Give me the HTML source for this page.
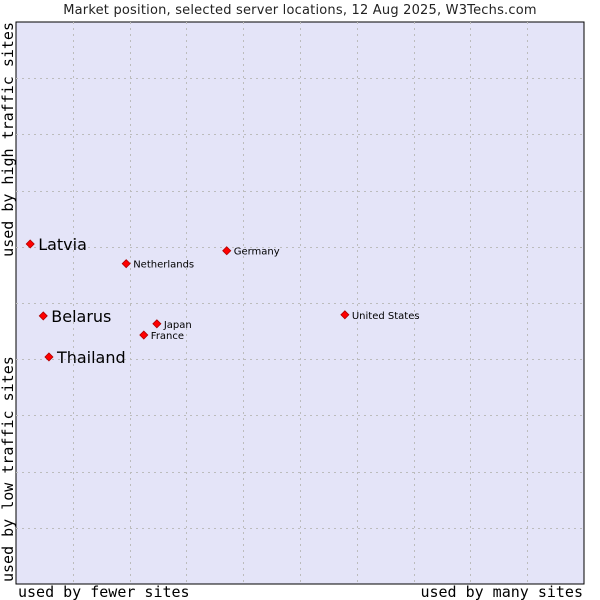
<!DOCTYPE html>
<html><head><meta charset="utf-8"><style>
html,body{margin:0;padding:0;background:#fff;width:600px;height:600px;overflow:hidden}
svg{display:block}
</style></head><body>
<svg id="chart" width="600" height="600">
<text x="300" y="14" text-anchor="middle" font-family="DejaVu Sans, sans-serif" font-size="13" letter-spacing="0.2" fill="#222">Market position, selected server locations, 12 Aug 2025, W3Techs.com</text>
<rect x="16" y="22" width="568" height="562" fill="#e4e4f8" stroke="#000" stroke-width="1"/>
<g id="grid"></g>
<g id="points"></g>
<text x="18" y="597" text-anchor="start" font-family="DejaVu Sans Mono, monospace" font-size="15" fill="#000">used by fewer sites</text>
<text x="583" y="597" text-anchor="end" font-family="DejaVu Sans Mono, monospace" font-size="15" fill="#000">used by many sites</text>
<text transform="translate(13,22) rotate(-90)" text-anchor="end" font-family="DejaVu Sans Mono, monospace" font-size="15" fill="#000">used by high traffic sites</text>
<text transform="translate(13,582) rotate(-90)" text-anchor="start" font-family="DejaVu Sans Mono, monospace" font-size="15" fill="#000">used by low traffic sites</text>
</svg>
<script>
const names = ["Latvia","Belarus","Thailand","Netherlands","Germany","Japan","France","United States"];
const xValues = [2.5,4.8,5.8,19.4,37.1,24.8,22.5,57.9];
const yValues = [60.5,47.7,40.4,57.0,59.3,46.3,44.3,47.9];
const highlighted = [true,true,true,false,false,false,false,false];
const L=16,T=22,W=568,H=562;
const sx=v=>L+v/100*W, sy=v=>T+H-v/100*H;
const NS="http://www.w3.org/2000/svg";
const grid=document.getElementById('grid');
for(let i=1;i<10;i++){
  const v=document.createElementNS(NS,'line');
  
  
  const x=Math.round(sx(i*10))+0.5;
  v.setAttribute('x1',x);v.setAttribute('x2',x);v.setAttribute('y1',T);v.setAttribute('y2',T+H);
  v.setAttribute('stroke','#bcbcbc');v.setAttribute('stroke-dasharray','2,4');
  grid.appendChild(v);
  const h=document.createElementNS(NS,'line');
  
  
  const y=Math.round(sy(i*10))+0.5;
  h.setAttribute('x1',L);h.setAttribute('x2',L+W);h.setAttribute('y1',y);h.setAttribute('y2',y);
  h.setAttribute('stroke','#bcbcbc');h.setAttribute('stroke-dasharray','2,4');
  grid.appendChild(h);
}
const pts=document.getElementById('points');
names.forEach((n,i)=>{
  const x=sx(xValues[i]), y=sy(yValues[i]);
  const d=document.createElementNS(NS,'polygon');
  
  
  d.setAttribute('points',`${x},${y-4} ${x+4},${y} ${x},${y+4} ${x-4},${y}`);
  d.setAttribute('fill','#ff0000');d.setAttribute('stroke','#b00000');d.setAttribute('stroke-width','0.8');
  pts.appendChild(d);
  const t=document.createElementNS(NS,'text');
  
  
  const big=highlighted[i];
  t.setAttribute('x',x+(big?8:7));
  t.setAttribute('y',y+(big?6:4));
  t.setAttribute('font-family','DejaVu Sans, sans-serif');
  t.setAttribute('font-size',big?'16':'10');
  t.setAttribute('fill','#000');
  t.textContent=n;
  pts.appendChild(t);
});
</script>
</body></html>
